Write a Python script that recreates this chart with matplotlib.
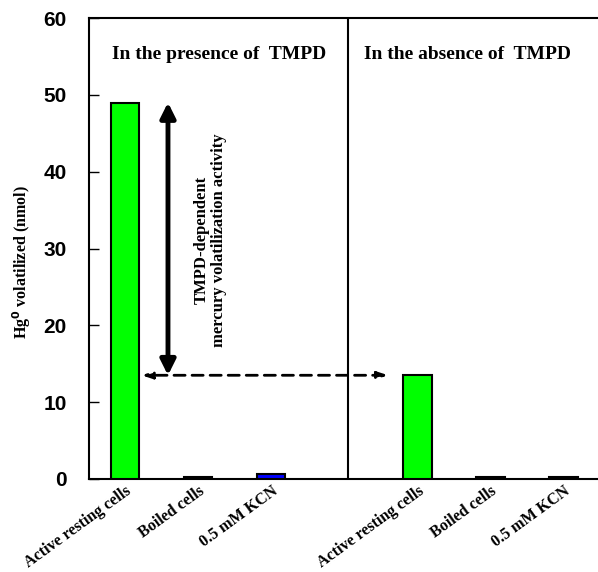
import matplotlib
matplotlib.use("Agg")
import matplotlib.pyplot as plt

categories = ["Active resting cells", "Boiled cells", "0.5 mM KCN",
              "Active resting cells", "Boiled cells", "0.5 mM KCN"]
positions = [0, 1, 2, 4, 5, 6]
values = [49.0, 0.2, 0.7, 13.5, 0.2, 0.2]
colors = ["#00ff00", "#00ff00", "#0000ff", "#00ff00", "#00ff00", "#00ff00"]
yticks = [0, 10, 20, 30, 40, 50, 60]

serif = ["Liberation Serif", "DejaVu Serif"]
sans = ["Liberation Sans", "DejaVu Sans"]

fig = plt.figure(figsize=(5.98, 5.72), dpi=100)
ax = fig.add_axes([89/598, 93/572, 1 - 89/598, (554-93)/572])

ax.bar(positions, values, width=0.39, color=colors, edgecolor="black", linewidth=1.5, zorder=3)

ax.set_xlim(-0.49, 6.47)
ax.set_ylim(0, 60)
ax.set_yticks(yticks)
ax.set_yticklabels([str(v) for v in yticks], fontfamily=sans, fontweight="bold", fontsize=15)
ax.tick_params(axis="y", direction="in", length=7, width=1, pad=16)
ax.set_xticks(positions)
ax.set_xticklabels(categories, rotation=36, ha="right", rotation_mode="anchor",
                   fontfamily=serif, fontweight="bold", fontsize=11.5)
ax.tick_params(axis="x", length=0, pad=3)

ax.spines["right"].set_visible(False)
for s in ["left", "top", "bottom"]:
    ax.spines[s].set_linewidth(1.5)

ax.axvline(3.05, color="black", linewidth=1.5, zorder=2)

ax.set_ylabel(r"Hg$^{\mathbf{0}}$ volatilized (nmol)", fontfamily=serif, fontweight="bold",
              fontsize=11.5)
ax.yaxis.set_label_coords(-0.11, 0.47)

ax.text(1.29, 55.2, "In the presence of  TMPD", ha="center", va="center",
        fontfamily=serif, fontweight="bold", fontsize=14)
ax.text(4.68, 55.2, "In the absence of  TMPD", ha="center", va="center",
        fontfamily=serif, fontweight="bold", fontsize=14)

# solid double arrow
ax.annotate("", xy=(0.59, values[0]), xytext=(0.59, values[3]),
            arrowprops=dict(arrowstyle="<|-|>,head_length=0.9,head_width=0.45",
                            color="black", lw=3.5, shrinkA=0, shrinkB=0), zorder=4)
# dashed double arrow
ax.annotate("", xy=(0.23, values[3]), xytext=(3.6, values[3]),
            arrowprops=dict(arrowstyle="<|-|>,head_length=0.6,head_width=0.2",
                            color="black", lw=2, linestyle=(0, (4, 2.5)),
                            shrinkA=0, shrinkB=0), zorder=4)

ax.text(1.17, 31.1, "TMPD-dependent\nmercury volatilization activity", rotation=90,
        ha="center", va="center", multialignment="center",
        fontfamily=serif, fontweight="bold", fontsize=12, linespacing=1.1)

fig.savefig("out.png", dpi=100)
